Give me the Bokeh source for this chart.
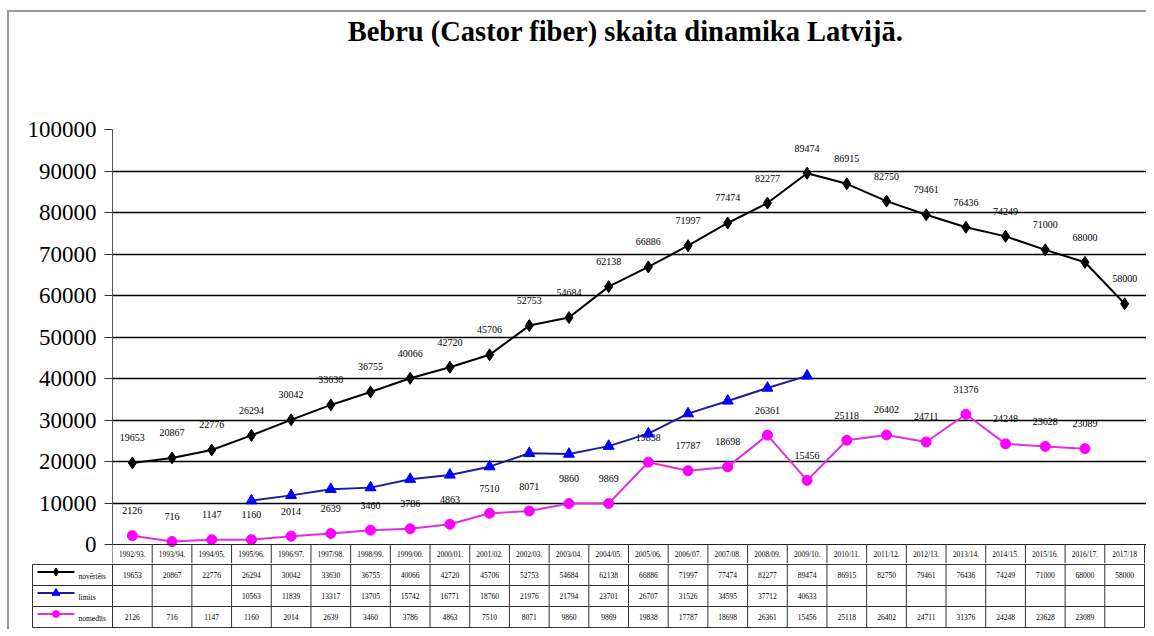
from bokeh.plotting import figure
from bokeh.layouts import column
from bokeh.models import Range1d, FixedTicker, Span, Label, NumeralTickFormatter
from bokeh.core.properties import value
from bokeh.embed import file_html
from bokeh.resources import INLINE

title_text = "Bebru (Castor fiber) skaita dinamika Latvijā."
seasons = ["1992/93.", "1993/94.", "1994/95.", "1995/96.", "1996/97.", "1997/98.",
           "1998/99.", "1999/00.", "2000/01.", "2001/02.", "2002/03.", "2003/04.",
           "2004/05.", "2005/06.", "2006/07.", "2007/08.", "2008/09.", "2009/10.",
           "2010/11.", "2011/12.", "2012/13.", "2013/14.", "2014/15.", "2015/16.",
           "2016/17.", "2017/18"]
series_names = ["novērtēts", "limits", "nomedīts"]
novertets = [19653, 20867, 22776, 26294, 30042, 33630, 36755, 40066, 42720, 45706,
             52753, 54684, 62138, 66886, 71997, 77474, 82277, 89474, 86915, 82750,
             79461, 76436, 74249, 71000, 68000, 58000]
limits = [None, None, None, 10563, 11839, 13317, 13705, 15742, 16771, 18760,
          21976, 21794, 23701, 26707, 31526, 34595, 37712, 40633, None, None,
          None, None, None, None, None, None]
nomedits = [2126, 716, 1147, 1160, 2014, 2639, 3460, 3786, 4863, 7510,
            8071, 9860, 9869, 19838, 17787, 18698, 26361, 15456, 25118, 26402,
            24711, 31376, 24248, 23628, 23089, None]
y_ticks = list(range(0, 100001, 10000))

FONT = value("Liberation Serif")
n = len(seasons)
W = 1146
cw = 1032 / n                       # width of one category column in px
k = 415 / 100000                    # px per unit on the y axis
x_end = n - 0.5 + 2 / cw

colors = {"nov": "#000000", "lim_line": "#1c1c9c", "lim_mk": "#0000ff",
          "nom_line": "#e030e0", "nom_mk": "#ff00ff"}

def valid(vals):
    xs = [i for i, v in enumerate(vals) if v is not None]
    return xs, [vals[i] for i in xs]

# ---------------- chart (with the category header row) ----------------
top_h = 563
zero_px = 544                      # pixel row of the value 0
y_start = -(top_h - zero_px) / k
y_end = zero_px / k
p = figure(width=W, height=top_h, x_range=Range1d(-0.5, x_end),
           y_range=Range1d(y_start, y_end), output_backend="svg",
           toolbar_location=None, x_axis_location=None,
           min_border_left=112, min_border_right=0, min_border_top=0,
           min_border_bottom=0)
p.frame_align = False
p.outline_line_color = None
p.background_fill_color = None
p.border_fill_color = None
p.xgrid.visible = False
p.ygrid.ticker = FixedTicker(ticks=y_ticks[1:-1])
p.ygrid.grid_line_color = "black"
p.ygrid.grid_line_width = 1.6
ax = p.yaxis[0]
ax.ticker = FixedTicker(ticks=y_ticks)
ax.bounds = (y_ticks[0], y_ticks[-1])
ax.formatter = NumeralTickFormatter(format="0")
ax.major_label_text_font = "Liberation Serif"
ax.major_label_text_font_size = "23px"
ax.major_label_text_color = "black"
ax.major_tick_in = 0
ax.major_tick_out = 8
ax.minor_tick_line_color = None
ax.axis_line_color = "#555555"
ax.major_tick_line_color = "#333333"
ax.major_label_standoff = 8

p.add_layout(Span(location=0, dimension="width", line_color="#222222", line_width=1.2))
# category separators of the header row
sep_x = [i - 0.5 for i in range(n + 1)]
p.segment(x0=sep_x, y0=[0] * len(sep_x), x1=sep_x, y1=[y_start] * len(sep_x),
          line_color="#333333", line_width=1)
header_y = -10 / k
p.text(list(range(n)), [header_y] * n, text=seasons, text_align="center",
       text_baseline="middle", text_font=FONT, text_font_size="7.5px",
       text_color="black")

idx = list(range(n))
p.line(idx, novertets, line_color=colors["nov"], line_width=2)
p.scatter(idx, novertets, marker="diamond", size=12, color=colors["nov"])

nx, ny = valid(nomedits)
p.line(nx, ny, line_color=colors["nom_line"], line_width=2)
p.scatter(nx, ny, marker="circle", size=10, color=colors["nom_mk"])

p.text(idx, novertets, text=[str(v) for v in novertets], y_offset=-25,
       text_align="center", text_baseline="middle", text_font=FONT,
       text_font_size="10px", text_color="black")
p.text(nx, ny, text=[str(v) for v in ny], y_offset=-25,
       text_align="center", text_baseline="middle", text_font=FONT,
       text_font_size="10px", text_color="black")

lx, ly = valid(limits)
p.line(lx, ly, line_color=colors["lim_line"], line_width=2)
p.scatter(lx, ly, marker="triangle", size=11, color=colors["lim_mk"])

p.add_layout(Label(x=513, y=top_h - 31, x_units="screen", y_units="screen",
                   text=title_text, text_font="Liberation Serif",
                   text_font_size="28.5px", text_font_style="bold",
                   text_align="center", text_baseline="middle",
                   text_color="black"))

# ---------------- data table rows ----------------
tab_h = 66
x_tab_left = -0.5 - 80 / cw
t = figure(width=W, height=tab_h, x_range=Range1d(-0.5 - 82 / cw, x_end),
           y_range=Range1d(tab_h, 0), output_backend="svg", toolbar_location=None,
           x_axis_location=None, y_axis_location=None,
           min_border_left=30, min_border_right=0, min_border_top=0,
           min_border_bottom=0)
t.frame_align = False
t.outline_line_color = None
t.grid.visible = False
t.background_fill_color = None
t.border_fill_color = None

rows = [1, 22, 43, 64]
line_col = "#333333"
t.segment(x0=[x_tab_left] * len(rows), y0=rows, x1=[n - 0.5] * len(rows), y1=rows,
          line_color=line_col, line_width=1)
t.segment(x0=sep_x, y0=[0] * len(sep_x), x1=sep_x, y1=[rows[-1]] * len(sep_x),
          line_color=line_col, line_width=1)
t.segment(x0=[x_tab_left], y0=[rows[0]], x1=[x_tab_left], y1=[rows[-1]],
          line_color=line_col, line_width=1)

row_c = [(rows[i] + rows[i + 1]) / 2 for i in range(3)]
for r, vals in enumerate([novertets, limits, nomedits]):
    vx, vy = valid(vals)
    t.text(vx, [row_c[r]] * len(vx), text=[str(v) for v in vy], text_align="center",
           text_baseline="middle", text_font=FONT, text_font_size="7.5px",
           text_color="black")

# legend keys
key_x0 = -0.5 - (112 - 37) / cw
key_x1 = -0.5 - (112 - 74) / cw
key_xm = (key_x0 + key_x1) / 2
lab_x = -0.5 - (112 - 78) / cw
key_styles = [(colors["nov"], colors["nov"], "diamond", 8),
              (colors["lim_line"], colors["lim_mk"], "triangle", 8),
              (colors["nom_line"], colors["nom_mk"], "circle", 7)]
for r, (lc, mc, mk, ms) in enumerate(key_styles):
    yy = row_c[r] - 3
    t.segment(x0=[key_x0], y0=[yy], x1=[key_x1], y1=[yy], line_color=lc, line_width=2)
    t.scatter([key_xm], [yy], marker=mk, size=ms, color=mc)
t.text([lab_x] * 3, [c + 1 for c in row_c], text=series_names, text_align="left",
       text_baseline="middle", text_font=FONT, text_font_size="7.5px",
       text_color="black")

frame_bg = ("linear-gradient(#9a9a9a, #9a9a9a) 7px 10px / 2px 100% no-repeat, "
            "linear-gradient(#9a9a9a, #9a9a9a) 7px 10px / 100% 2px no-repeat, white")
layout = column(p, t, spacing=0, styles={"background": frame_bg})
open("out.html", "w").write(file_html(layout, INLINE))
